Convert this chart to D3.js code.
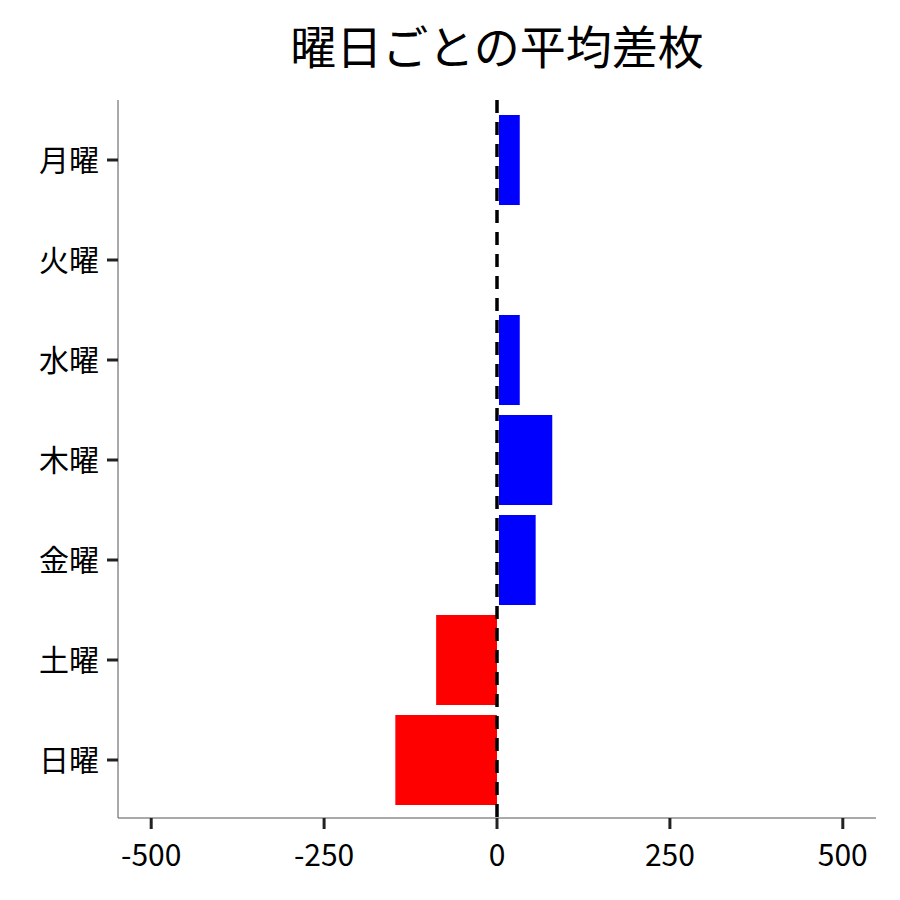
<!DOCTYPE html>
<html><head><meta charset="utf-8">
<script src="https://cdn.jsdelivr.net/npm/d3@7"></script>
<style>body{margin:0;background:#fff}text{font-family:"Noto Sans CJK JP","Noto Sans",sans-serif}</style>
</head><body><svg id="c" width="900" height="900"></svg>
<script>
const days = ['月曜', '火曜', '水曜', '木曜', '金曜', '土曜', '日曜'];
const avgDiff = [30, 0, 30, 77, 53, -88, -147];
const xTicks = [-500, -250, 0, 250, 500];

const svg = d3.select('#c');
const x = d3.scaleLinear().domain([-548, 548]).range([118, 876]);
const y = d3.scaleBand().domain(days).range([110, 810]).paddingInner(0.1).paddingOuter(0.05);

svg.append('text').attr('x', 497).attr('y', 64).attr('text-anchor', 'middle')
    .attr('font-size', 46).text('曜日ごとの平均差枚');

// 棒
svg.selectAll('rect.bar').data(days).join('rect')
    .attr('x', (d, i) => x(Math.min(0, avgDiff[i])) + (avgDiff[i] > 0 ? 2 : 0))
    .attr('y', d => y(d))
    .attr('width', (d, i) => Math.abs(x(avgDiff[i]) - x(0)))
    .attr('height', y.bandwidth())
    .attr('fill', (d, i) => avgDiff[i] >= 0 ? '#0000ff' : '#ff0000');

// 軸
svg.append('line').attr('x1', 118).attr('x2', 118).attr('y1', 100).attr('y2', 818)
    .attr('stroke', '#555').attr('stroke-width', 1);
svg.append('line').attr('x1', 118).attr('x2', 876).attr('y1', 818).attr('y2', 818)
    .attr('stroke', '#555').attr('stroke-width', 1);

days.forEach(d => {
    const cy = y(d) + y.bandwidth() / 2;
    svg.append('line').attr('x1', 107).attr('x2', 118).attr('y1', cy).attr('y2', cy)
        .attr('stroke', '#222').attr('stroke-width', 3);
    svg.append('text').attr('x', 99).attr('y', cy).attr('dy', '0.36em')
        .attr('text-anchor', 'end').attr('font-size', 30).text(d);
});
xTicks.forEach(t => {
    svg.append('line').attr('x1', x(t)).attr('x2', x(t)).attr('y1', 818).attr('y2', 829)
        .attr('stroke', '#222').attr('stroke-width', 3);
    svg.append('text').attr('x', x(t)).attr('y', 866)
        .attr('text-anchor', 'middle').attr('font-size', 30).text(t);
});

// ゼロ線
svg.append('line').attr('x1', x(0)).attr('x2', x(0)).attr('y1', 100).attr('y2', 818)
    .attr('stroke', '#000').attr('stroke-width', 3.5).attr('stroke-dasharray', '13,9');
</script></body></html>
